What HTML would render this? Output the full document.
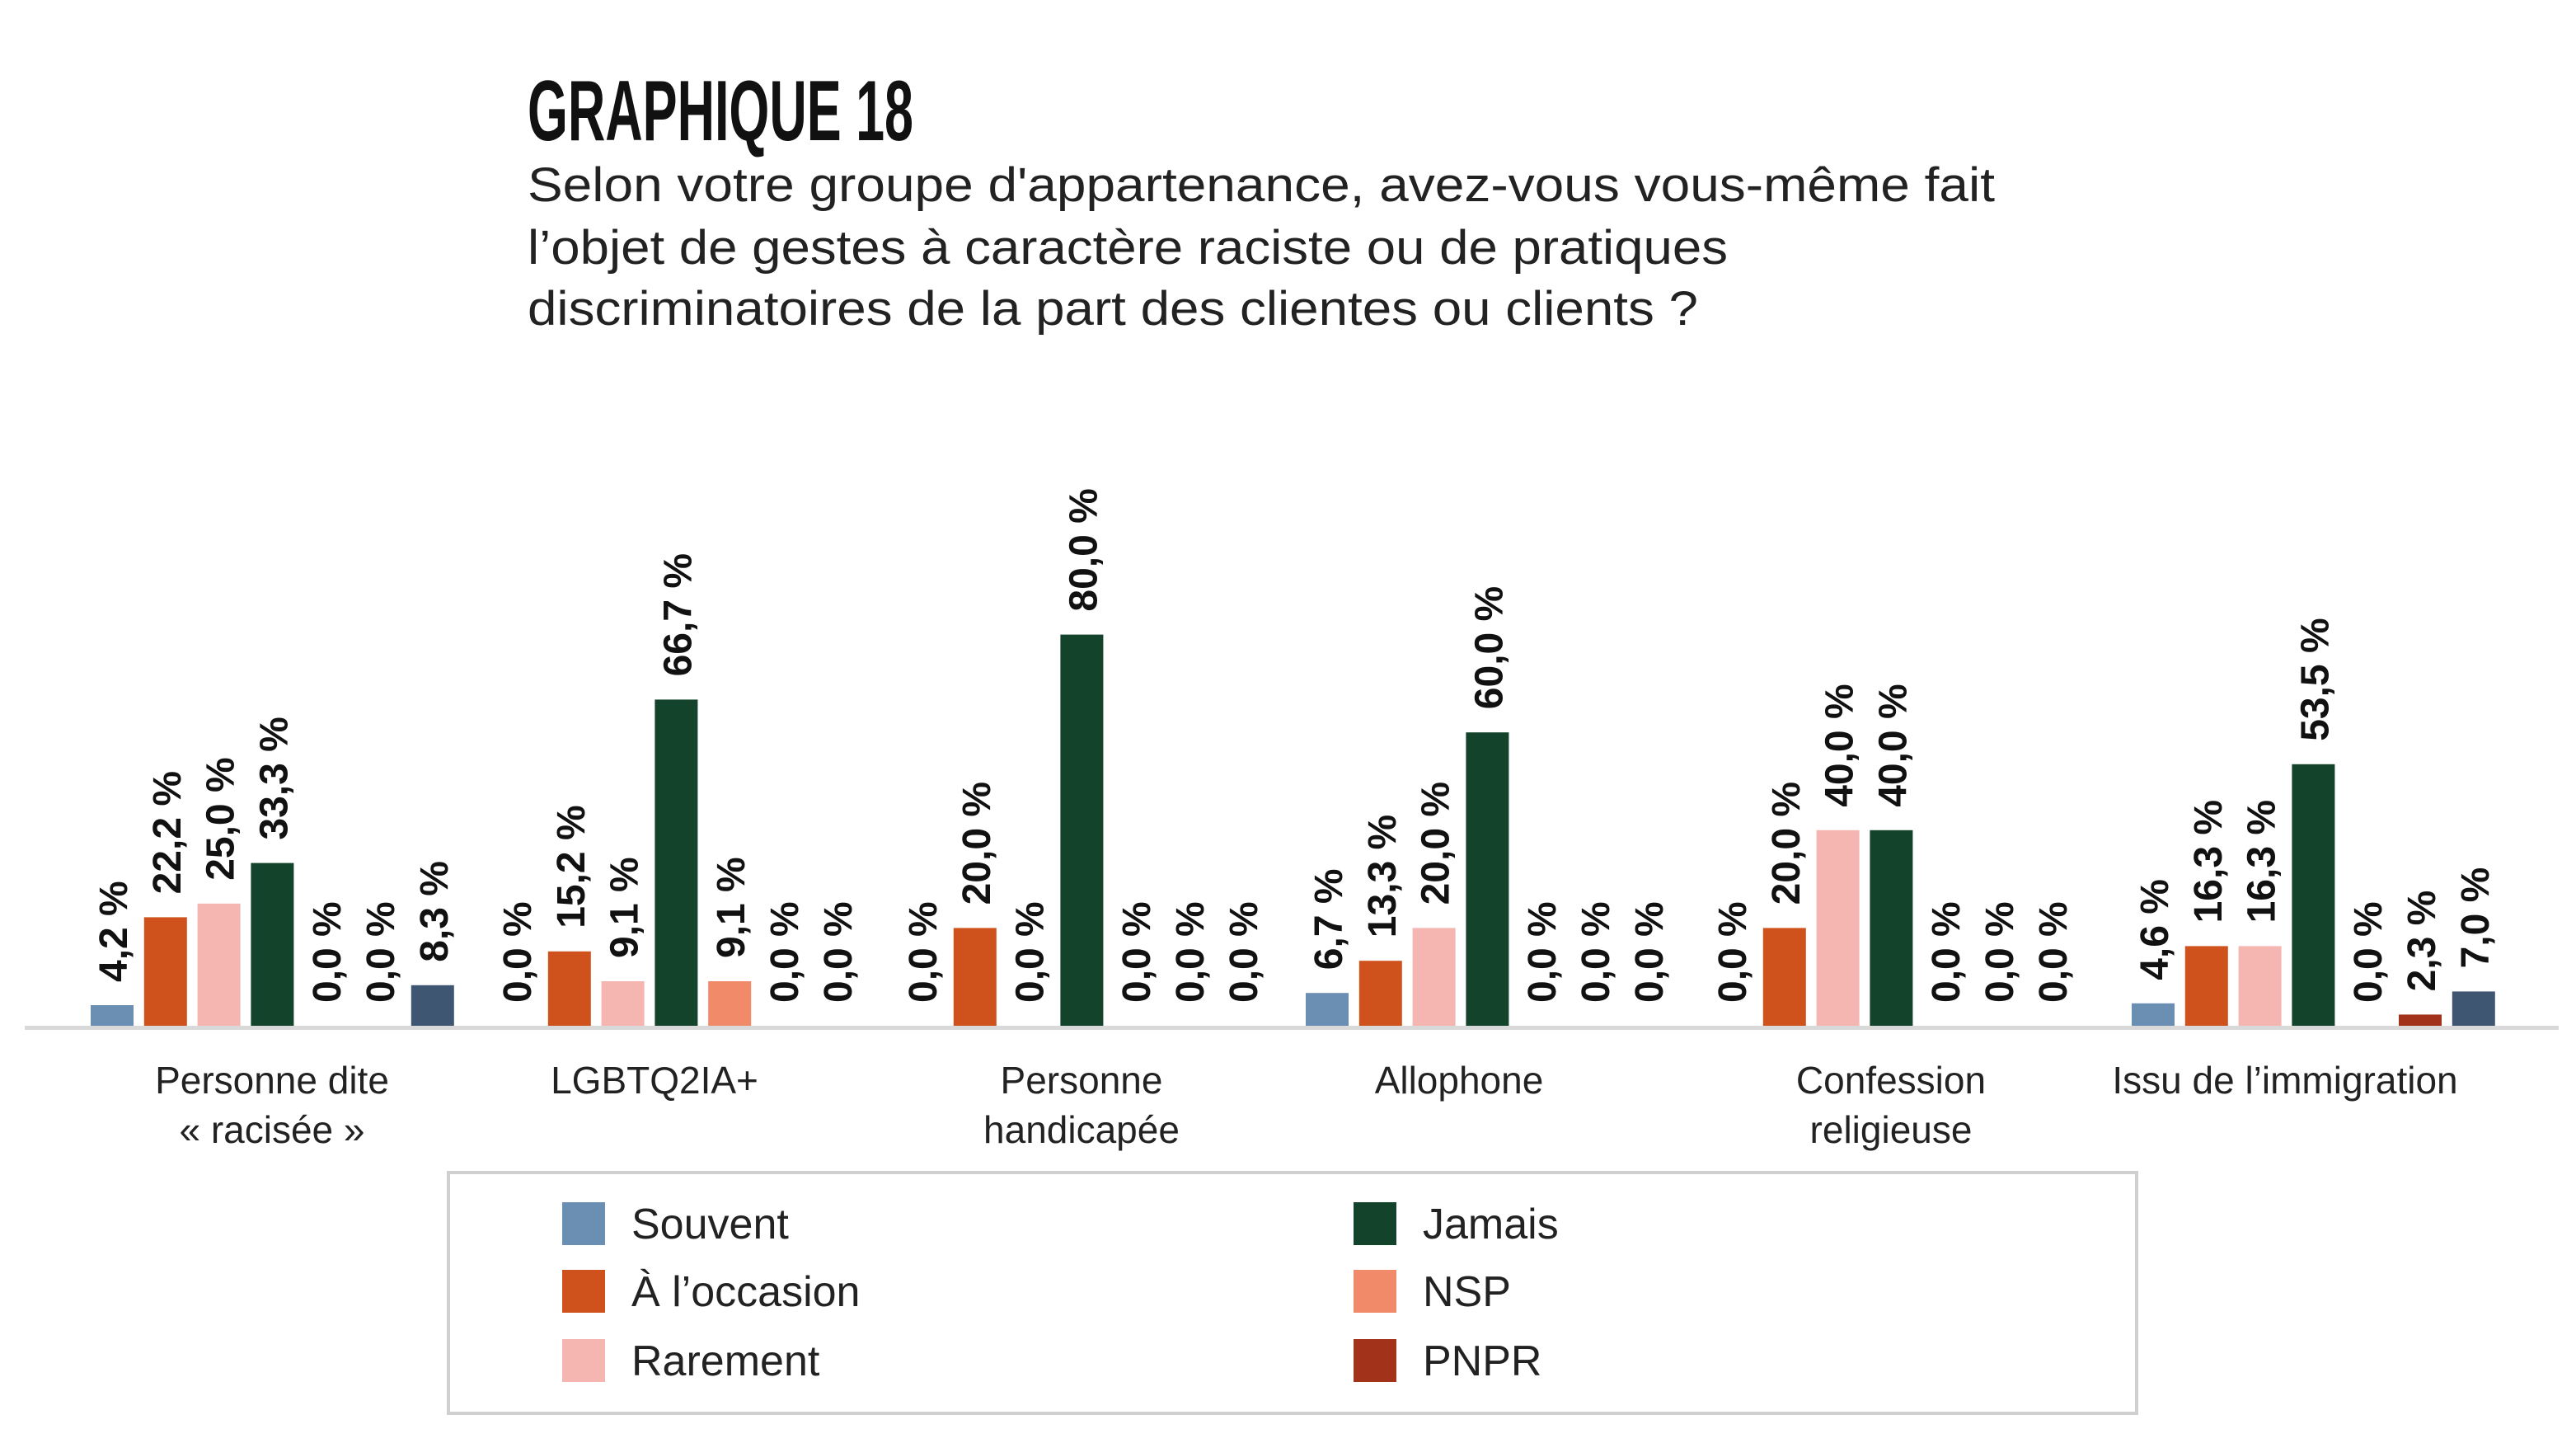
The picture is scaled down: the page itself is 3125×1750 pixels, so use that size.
<!DOCTYPE html>
<html><head><meta charset="utf-8"><style>
html,body{margin:0;padding:0;background:#fff;}
svg{display:block;}
</style></head><body>
<svg width="3125" height="1750" viewBox="0 0 1562.5 875" xmlns="http://www.w3.org/2000/svg" font-family="Liberation Sans, sans-serif">
<text x="320" y="85" font-family="Liberation Sans Narrow, Liberation Sans, sans-serif" font-weight="bold" font-size="52" textLength="234" lengthAdjust="spacingAndGlyphs" fill="#111">GRAPHIQUE 18</text>
<g font-size="29" fill="#222">
<text x="320" y="122" textLength="890" lengthAdjust="spacingAndGlyphs">Selon votre groupe d'appartenance, avez-vous vous-même fait</text>
<text x="320" y="160" textLength="728" lengthAdjust="spacingAndGlyphs">l’objet de gestes à caractère raciste ou de pratiques</text>
<text x="320" y="197" textLength="710" lengthAdjust="spacingAndGlyphs">discriminatoires de la part des clientes ou clients ?</text>
</g>
<rect x="15" y="622" width="1537" height="2.5" fill="#d9d9d9"/>
<g id="bars"></g>
<g font-size="23" fill="#222" text-anchor="middle">
<text x="165" y="663">Personne dite</text><text x="165" y="693">« racisée »</text>
<text x="397" y="663">LGBTQ2IA+</text>
<text x="656" y="663">Personne</text><text x="656" y="693">handicapée</text>
<text x="885" y="663">Allophone</text>
<text x="1147" y="663">Confession</text><text x="1147" y="693">religieuse</text>
<text x="1386" y="663">Issu de l’immigration</text>
</g>
<rect x="272" y="711" width="1024" height="146" fill="none" stroke="#d0d0d0" stroke-width="2"/>
<g font-size="26" fill="#222">
<rect x="341" y="729" width="26" height="26" fill="#6b8fb3"/><text x="383" y="751">Souvent</text>
<rect x="341" y="770" width="26" height="26" fill="#cf521c"/><text x="383" y="792">À l’occasion</text>
<rect x="341" y="812" width="26" height="26" fill="#f5b5b0"/><text x="383" y="834">Rarement</text>
<rect x="821" y="729" width="26" height="26" fill="#14432c"/><text x="863" y="751">Jamais</text>
<rect x="821" y="770" width="26" height="26" fill="#f08a68"/><text x="863" y="792">NSP</text>
<rect x="821" y="812" width="26" height="26" fill="#a3321b"/><text x="863" y="834">PNPR</text>
</g>
</svg>
<script>
var cols=["#6b8fb3","#cf521c","#f5b5b0","#14432c","#f08a68","#a3321b","#3f5673"];
var data=[[4.2,22.2,25.0,33.3,0,0,8.3],[0,15.2,9.1,66.7,9.1,0,0],[0,20,0,80,0,0,0],[6.7,13.3,20,60,0,0,0],[0,20,40,40,0,0,0],[4.6,16.3,16.3,53.5,0,2.3,7.0]];
var starts=[55,300,546,792,1037,1293];
var g=document.getElementById('bars');var s='';
var base=622,k=2.965;
data.forEach(function(d,gi){d.forEach(function(v,i){
 var x=starts[gi]+i*32.4,h=v*k,top=base-h;
 if(v>0)s+='<rect x="'+x.toFixed(1)+'" y="'+top.toFixed(1)+'" width="26" height="'+h.toFixed(1)+'" fill="'+cols[i]+'"/>';
 var cx=x+13+9,ly=top-14;
 s+='<text transform="translate('+cx.toFixed(1)+','+ly.toFixed(1)+') rotate(-90)" font-size="24" font-weight="bold" fill="#111">'+v.toFixed(1).replace('.',',')+' %</text>';
});});
g.innerHTML=s;
</script>
</body></html>
